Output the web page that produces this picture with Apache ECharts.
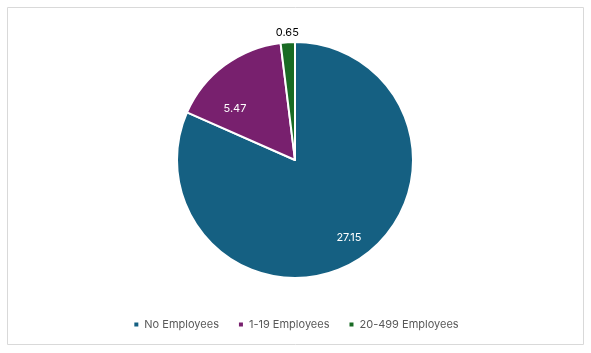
<!DOCTYPE html>
<html>
<head>
<meta charset="utf-8">
<script src="https://cdn.jsdelivr.net/npm/echarts@6/dist/echarts.min.js"></script>
<style>
  html, body { margin: 0; padding: 0; background: #fff; }
  #main { width: 591px; height: 353px; }
</style>
</head>
<body>
<div id="main"></div>
<script>
// 数据
const categories = ['No Employees', '1-19 Employees', '20-499 Employees']
const values = [27.15, 5.47, 0.65]
const colors = ['#156082', '#78206E', '#196B24']
const labelColors = ['#fff', '#fff', '#000']

const myChart = echarts.init(document.getElementById('main'))
myChart.setOption({
  animation: false,
  color: colors,
  graphic: [{
    type: 'rect',
    shape: { x: 7.5, y: 7.5, width: 576, height: 337 },
    style: { fill: 'none', stroke: '#d9d9d9', lineWidth: 1 },
    silent: true
  }],
  legend: {
    bottom: 18,
    left: 'center',
    icon: 'rect',
    itemWidth: 6,
    itemHeight: 6,
    itemGap: 18,
    textStyle: { color: '#595959', fontSize: 11, fontFamily: 'Inter, Noto Sans, sans-serif' },
    data: categories
  },
  series: [{
    type: 'pie',
    center: [295, 160],
    radius: [0, 118],
    startAngle: 90,
    clockwise: true,
    avoidLabelOverlap: false,
    itemStyle: { borderColor: '#fff', borderWidth: 2 },
    label: {
      position: 'inside',
      fontSize: 11,
      fontFamily: 'Inter, Noto Sans, sans-serif',
      formatter: p => p.value.toFixed(2)
    },
    labelLayout: params => {
      // 按 Excel 的位置微调
      if (params.dataIndex === 0) return { dx: 20, dy: 26 }
      if (params.dataIndex === 1) return { dx: -23, dy: -2 }
      return { dx: 47, dy: 5 }
    },
    data: categories.map((name, i) => ({
      name: name,
      value: values[i],
      label: i === 2
        ? { position: 'outside', color: labelColors[i], distance: 4 }
        : { color: labelColors[i] },
      labelLine: { show: false }
    }))
  }]
})
</script>
</body>
</html>
